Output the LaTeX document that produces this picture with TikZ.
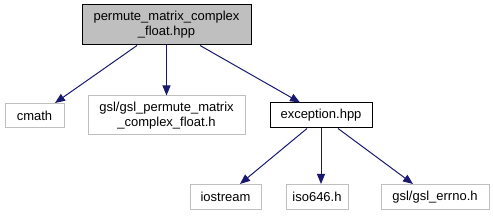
\documentclass[tikz,border=0pt]{standalone}
\usepackage{fontspec}
\setmainfont{Liberation Sans}
\usetikzlibrary{arrows.meta}
\definecolor{edgeblue}{HTML}{191970}
\definecolor{lightborder}{HTML}{BFBFBF}
\definecolor{rootfill}{HTML}{BFBFBF}
\tikzset{
  box/.style={draw=lightborder, line width=1pt, inner sep=0pt, align=center,
    font=\fontsize{13}{15}\selectfont, text=black},
  rootbox/.style={box, draw=black, fill=rootfill},
  excbox/.style={box, draw=black},
  edge/.style={draw=edgeblue, line width=1pt, -{Triangle[length=10pt,width=8pt]}, edgeblue}
}
\begin{document}
\begin{tikzpicture}[x=1pt,y=-1pt]
\useasboundingbox (0,0) rectangle (493,216);
\node[rootbox, minimum width=169pt, minimum height=40pt] (root) at (166.5,25) {permute\_matrix\_complex\\\_float.hpp};
\node[box, minimum width=59pt, minimum height=24pt] (cmath) at (34.5,115.5) {cmath};
\node[box, minimum width=157pt, minimum height=39pt] (gslp) at (166.5,115.5) {gsl/gsl\_permute\_matrix\\\_complex\_float.h};
\node[excbox, minimum width=102pt, minimum height=25pt] (exc) at (321,115.5) {exception.hpp};
\node[box, minimum width=71pt, minimum height=25pt] (ios) at (225.5,197) {iostream};
\node[box, minimum width=62pt, minimum height=25pt] (iso) at (317,197) {iso646.h};
\node[box, minimum width=108pt, minimum height=25pt] (errno) at (435,197) {gsl/gsl\_errno.h};
\draw[edge] ([xshift=-29.5pt]root.south) -- ([xshift=20.5pt]cmath.north);
\draw[edge] (root.south) -- (gslp.north);
\draw[edge] ([xshift=33.5pt]root.south) -- ([xshift=-21pt]exc.north);
\draw[edge] ([xshift=-14pt]exc.south) -- ([xshift=14.5pt]ios.north);
\draw[edge] (exc.south) -- (exc.south |- iso.north);
\draw[edge] ([xshift=17pt]exc.south) -- ([xshift=-22pt]errno.north);
\end{tikzpicture}
\end{document}
